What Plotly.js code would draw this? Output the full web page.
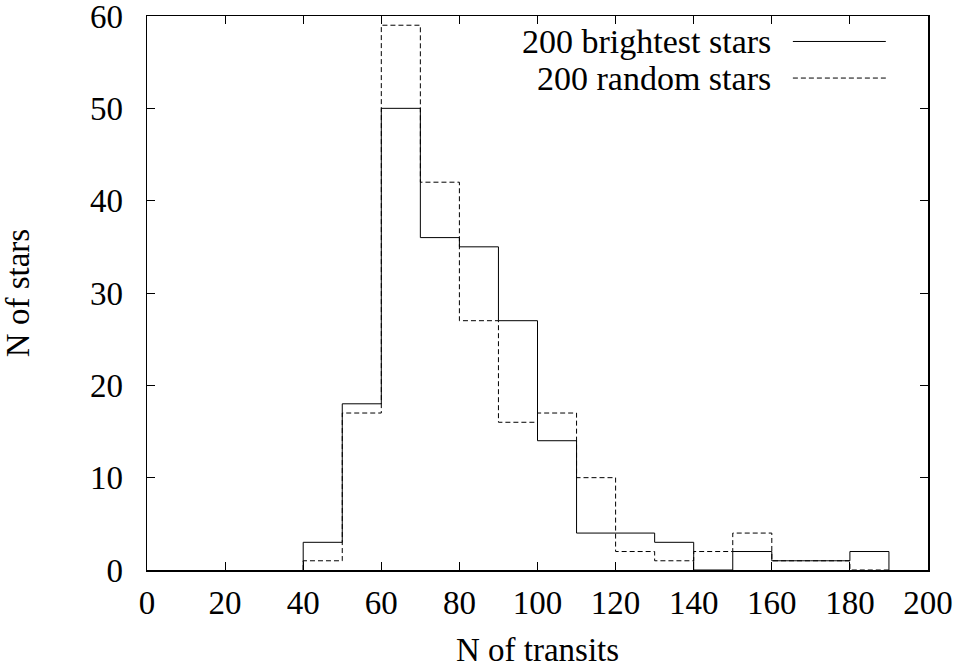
<!DOCTYPE html>
<html>
<head>
<meta charset="utf-8">
<script src="https://cdn.plot.ly/plotly-3.0.1.min.js"></script>
<style>html,body{margin:0;padding:0;background:#fff}#chart{width:962px;height:668px}</style>
</head>
<body>
<div id="chart"></div>
<script>
// Bin left edges (N of transits) and counts per bin (width 10)
const binStart = [40, 50, 60, 70, 80, 90, 100, 110, 120, 130, 140, 150, 160, 170, 180];
const binWidth = 10;
const brightestCounts = [3, 18, 50, 36, 35, 27, 14, 4, 4, 3, 0, 2, 1, 1, 2];
const randomCounts    = [1, 17, 59, 42, 27, 16, 17, 10, 2, 1, 2, 4, 1, 1, 0];
const seriesNames = ["200 brightest stars", "200 random stars"];
const xTicks = [0, 20, 40, 60, 80, 100, 120, 140, 160, 180, 200];
const yTicks = [0, 10, 20, 30, 40, 50, 60];

function stepXY(counts) {
  const x = [binStart[0]];
  const y = [0];
  for (let i = 0; i < counts.length; i++) { x.push(binStart[i]); y.push(counts[i]); }
  const end = binStart[binStart.length - 1] + binWidth;
  x.push(end); y.push(counts[counts.length - 1]);
  x.push(end); y.push(0);
  return {x, y};
}

const a = stepXY(brightestCounts);
const b = stepXY(randomCounts);

const traces = [
  {x: a.x, y: a.y, type: 'scatter', mode: 'lines', line: {shape: 'hv', color: '#000', width: 1}, name: seriesNames[0], hoverinfo: 'skip'},
  {x: b.x, y: b.y, type: 'scatter', mode: 'lines', line: {shape: 'hv', color: '#000', width: 1, dash: '5px,3px'}, name: seriesNames[1], hoverinfo: 'skip'}
];

const font = {family: 'Liberation Serif, Times New Roman, serif', size: 33, color: '#000'};
const legendFont = {family: 'Liberation Serif, Times New Roman, serif', size: 34, color: '#000'};

const layout = {
  width: 962, height: 668,
  margin: {l: 147, r: 34, t: 16, b: 98},
  paper_bgcolor: '#fff', plot_bgcolor: '#fff',
  showlegend: false,
  font: font,
  xaxis: {
    range: [0, 200], tickvals: xTicks, ticktext: xTicks.map(String),
    ticks: 'inside', ticklen: 8, tickwidth: 1, tickcolor: '#000',
    showline: true, linecolor: '#000', linewidth: 1.5, mirror: 'allticks',
    showgrid: false, zeroline: false,
    ticklabelstandoff: 3, ticklabeloverflow: 'allow',
    tickfont: font,
    title: {text: 'N of transits', font: font, standoff: 23},
    automargin: false
  },
  yaxis: {
    range: [0, 60], tickvals: yTicks, ticktext: yTicks.map(String),
    ticks: 'inside', ticklen: 8, tickwidth: 1, tickcolor: '#000',
    showline: true, linecolor: '#000', linewidth: 1.5, mirror: 'allticks',
    showgrid: false, zeroline: false,
    ticklabelstandoff: 16, ticklabeloverflow: 'allow',
    tickfont: font,
    title: {text: 'N of stars', font: font, standoff: 54},
    automargin: false
  },
  annotations: [
    {xref: 'paper', yref: 'paper', x: 0.801, y: 0.954, xanchor: 'right', yanchor: 'middle', text: seriesNames[0], showarrow: false, font: legendFont},
    {xref: 'paper', yref: 'paper', x: 0.801, y: 0.888, xanchor: 'right', yanchor: 'middle', text: seriesNames[1], showarrow: false, font: legendFont}
  ],
  shapes: [
    {type: 'line', xref: 'paper', yref: 'paper', x0: 0.827, x1: 0.946, y0: 0.954, y1: 0.954, line: {color: '#000', width: 1}},
    {type: 'line', xref: 'paper', yref: 'paper', x0: 0.827, x1: 0.946, y0: 0.888, y1: 0.888, line: {color: '#000', width: 1, dash: '5px,3px'}}
  ]
};

Plotly.newPlot('chart', traces, layout, {staticPlot: true, displayModeBar: false});
</script>
</body>
</html>
